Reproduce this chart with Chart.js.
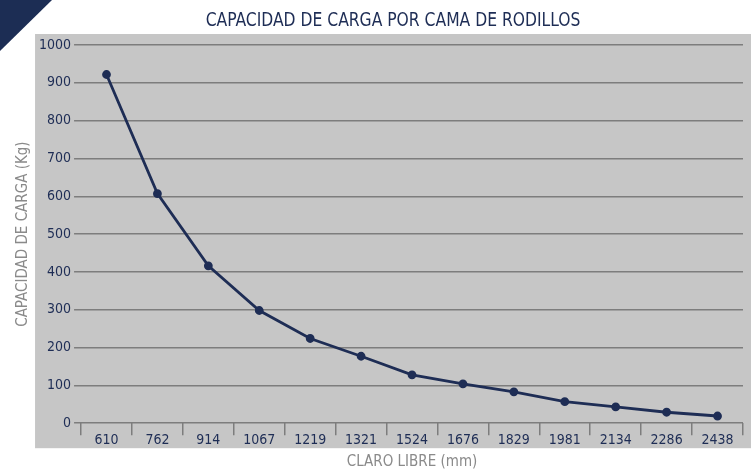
<!DOCTYPE html>
<html>
<head>
<meta charset="utf-8">
<script src="https://cdn.jsdelivr.net/npm/chart.js@4.4.1/dist/chart.umd.min.js"></script>
<style>
  html, body { margin: 0; padding: 0; background: #ffffff; }
  #wrap { width: 751px; height: 469px; }
</style>
</head>
<body>
<div id="wrap"><canvas id="lineChart" width="751" height="469"></canvas></div>
<script>
const claro = ["610", "762", "914", "1067", "1219", "1321", "1524", "1676", "1829", "1981", "2134", "2286", "2438"];
const capacidad = [922, 607, 416, 298, 224, 177, 128, 104, 83, 57, 43, 29, 19];
const yTicks = [0, 100, 200, 300, 400, 500, 600, 700, 800, 900, 1000];

const navy = "#1e2d55";
const fontFam = "'Liberation Sans Narrow', 'DejaVu Sans Condensed', 'Roboto', sans-serif";

// gray panel, corner triangle and title
const decor = {
  id: "decor",
  beforeDraw(chart) {
    const c = chart.ctx;
    const area = chart.chartArea;
    const panelLeft = area.left - 46;
    c.save();
    c.fillStyle = "#c6c6c6";
    c.fillRect(panelLeft, area.top - 11, chart.width - panelLeft, area.bottom - area.top + 36);
    c.fillStyle = "#1c2d54";
    c.beginPath();
    c.moveTo(0, 0);
    c.lineTo(52, 0);
    c.lineTo(0, 51);
    c.closePath();
    c.fill();
    // condensed title, centered over the panel
    c.fillStyle = navy;
    c.font = "20px " + fontFam;
    c.textAlign = "center";
    c.textBaseline = "middle";
    c.translate((panelLeft + chart.width) / 2, 21);
    c.scale(0.865, 1);
    c.fillText("CAPACIDAD DE CARGA POR CAMA DE RODILLOS", 0, 0);
    c.restore();
  }
};

let linectx = document.getElementById("lineChart").getContext("2d");
let lineChart = new Chart(linectx, {
  type: "line",
  data: {
    labels: claro,
    datasets: [{
      data: capacidad,
      borderColor: navy,
      backgroundColor: navy,
      borderWidth: 2.8,
      pointRadius: 3,
      pointHoverRadius: 3,
      tension: 0,
      fill: false
    }]
  },
  options: {
    responsive: false,
    animation: false,
    layout: { padding: { top: 45, right: 8, left: 14, bottom: -3 } },
    plugins: { legend: { display: false }, tooltip: { enabled: false } },
    scales: {
      x: {
        offset: true,
        border: { display: false },
        grid: { offset: true, drawOnChartArea: false, tickLength: 12, color: "#7d7d7d", lineWidth: 1.5 },
        ticks: { color: navy, padding: -3, font: { family: fontFam, size: 14 } },
        title: { display: true, text: "CLARO LIBRE (mm)", color: "#8a8a8a", font: { family: fontFam, size: 15 }, padding: { top: 7, bottom: 1 } }
      },
      y: {
        min: 0,
        max: 1000,
        afterBuildTicks(scale) { scale.ticks = yTicks.map(v => ({ value: v })); },
        border: { display: false },
        grid: { color: "#7d7d7d", lineWidth: 1.5, tickLength: 7 },
        ticks: { color: navy, padding: 3, font: { family: fontFam, size: 14 }, callback: v => String(v) },
        title: { display: true, text: "CAPACIDAD DE CARGA (Kg)", color: "#8a8a8a", font: { family: fontFam, size: 15 }, padding: { top: 0, bottom: 4 } }
      }
    }
  },
  plugins: [decor]
});
</script>
</body>
</html>
